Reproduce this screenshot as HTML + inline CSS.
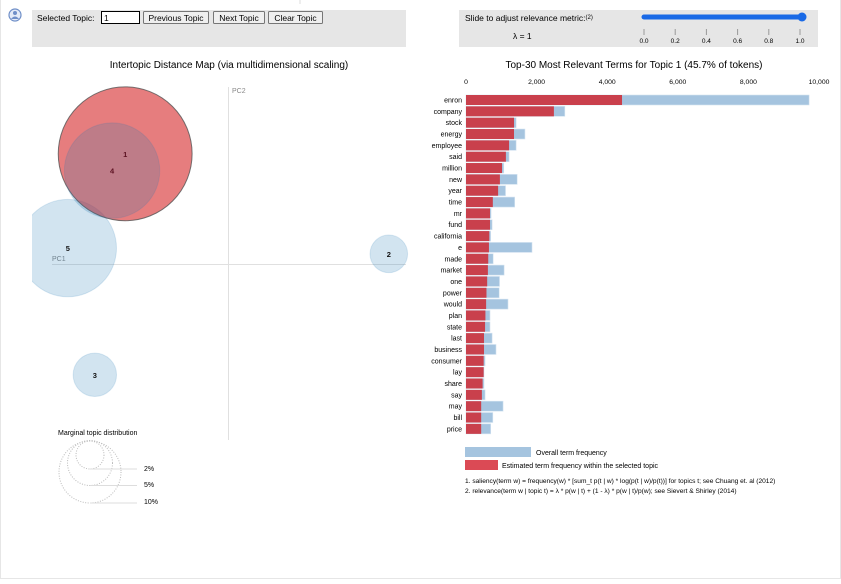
<!DOCTYPE html>
<html><head><meta charset="utf-8">
<style>
body{margin:0;background:#fff;font-family:"Liberation Sans",sans-serif;}
svg text{font-family:"Liberation Sans",sans-serif;}
</style></head>
<body>
<svg id="root" width="841" height="579" viewBox="0 0 841 579" xmlns="http://www.w3.org/2000/svg">
<line x1="300" y1="0" x2="300" y2="4" stroke="#ddd"/>
<line x1="0.5" y1="0" x2="0.5" y2="579" stroke="#e6e6e6"/>
<line x1="840.5" y1="0" x2="840.5" y2="579" stroke="#e6e6e6"/>
<line x1="0" y1="578.5" x2="841" y2="578.5" stroke="#e6e6e6"/>
<g>
<circle cx="15" cy="15" r="6" fill="#e4ebf7" stroke="#6f8fc8" stroke-width="1.2"/>
<circle cx="15" cy="13" r="2" fill="#6f8fc8"/>
<path d="M11 19 Q15 14 19 19" fill="#6f8fc8"/>
</g>
<rect x="32" y="10" width="374" height="37" fill="#e6e6e6"/>
<text x="37" y="21" font-size="8.5" fill="#000">Selected Topic:</text>
<rect x="101.5" y="11.5" width="38" height="12" fill="#fff" stroke="#000"/>
<text x="104" y="21" font-size="8.5">1</text>
<g><rect x="143.5" y="11.5" width="65" height="12" fill="#efefef" stroke="#767676" rx="1"/><text x="176" y="21" font-size="8.5" text-anchor="middle">Previous Topic</text></g>
<g><rect x="213.5" y="11.5" width="51" height="12" fill="#efefef" stroke="#767676" rx="1"/><text x="239" y="21" font-size="8.5" text-anchor="middle">Next Topic</text></g>
<g><rect x="268.5" y="11.5" width="54" height="12" fill="#efefef" stroke="#767676" rx="1"/><text x="295.5" y="21" font-size="8.5" text-anchor="middle">Clear Topic</text></g>

<rect x="459" y="10" width="359" height="37" fill="#e6e6e6"/>
<text x="465" y="21" font-size="8.5">Slide to adjust relevance metric:<tspan font-size="6" dy="-2">(2)</tspan></text>
<text x="513" y="39" font-size="8.5">λ = 1</text>
<g>
<line x1="644" y1="17" x2="802" y2="17" stroke="#1a6ae6" stroke-width="5" stroke-linecap="round"/>
<circle cx="802" cy="17" r="4.5" fill="#1a6ae6"/>
</g>
<g id="sliderTicks"></g>

<text x="229" y="68" font-size="10" text-anchor="middle">Intertopic Distance Map (via multidimensional scaling)</text>
<text x="634" y="68" font-size="10" text-anchor="middle">Top-30 Most Relevant Terms for Topic 1 (45.7% of tokens)</text>

<defs><clipPath id="mdsclip"><rect x="32" y="78" width="380" height="370"/></clipPath></defs>
<line x1="228.5" y1="87" x2="228.5" y2="440" stroke="#e0e0e0"/>
<line x1="52" y1="264.5" x2="406" y2="264.5" stroke="#e0e0e0"/>
<text x="232" y="93" font-size="7" fill="#888">PC2</text>
<text x="52" y="261" font-size="7" fill="#888">PC1</text>
<g id="circles" clip-path="url(#mdsclip)"></g>

<g>
<text x="58" y="435" font-size="7">Marginal topic distribution</text>
<circle cx="90" cy="455" r="14" fill="none" stroke="#bbb" stroke-dasharray="1,1.5"/>
<circle cx="90" cy="463" r="22.5" fill="none" stroke="#bbb" stroke-dasharray="1,1.5"/>
<circle cx="90" cy="472" r="31" fill="none" stroke="#bbb" stroke-dasharray="1,1.5"/>
<line x1="90" y1="469" x2="137" y2="469" stroke="#ddd"/>
<line x1="90" y1="485.5" x2="137" y2="485.5" stroke="#ddd"/>
<line x1="90" y1="503" x2="137" y2="503" stroke="#ddd"/>
<text x="144" y="471" font-size="7">2%</text>
<text x="144" y="487" font-size="7">5%</text>
<text x="144" y="504" font-size="7">10%</text>
</g>

<g id="bars"></g>

<rect x="465" y="447" width="66" height="10" fill="#a5c4df"/>
<text x="536" y="455" font-size="7">Overall term frequency</text>
<rect x="465" y="460" width="33" height="10" fill="#db4a55"/>
<text x="502" y="468" font-size="7">Estimated term frequency within the selected topic</text>
<text x="465" y="483" font-size="6.6">1. saliency(term w) = frequency(w) * [sum_t p(t | w) * log(p(t | w)/p(t))] for topics t; see Chuang et. al (2012)</text>
<text x="465" y="493" font-size="6.6">2. relevance(term w | topic t) = λ * p(w | t) + (1 - λ) * p(w | t)/p(w); see Sievert &amp; Shirley (2014)</text>
</svg>
<script>
const NS='http://www.w3.org/2000/svg';
const terms=['enron','company','stock','energy','employee','said','million','new','year','time','mr','fund','california','e','made','market','one','power','would','plan','state','last','business','consumer','lay','share','say','may','bill','price'];
const overallFreq=[9720,2800,1420,1670,1420,1220,1070,1450,1120,1380,710,740,700,1870,770,1080,950,940,1190,680,680,740,850,540,510,510,540,1050,760,700];
const topicFreq=[4420,2490,1360,1360,1220,1130,1020,960,910,760,680,680,660,650,630,620,600,580,570,550,540,510,510,500,500,470,450,430,430,430];
const xTicks=[0,2000,4000,6000,8000,10000];
const sliderTicks=[0.0,0.2,0.4,0.6,0.8,1.0];
const topicIds=['1','2','3','4','5'];
const topicPC1=[-0.252,0.391,-0.326,-0.284,-0.392];
const topicPC2=[0.270,0.026,-0.269,0.229,0.040];
const topicSize=[45.7,3.6,4.8,23.2,24.2];

function el(tag,attrs,parent){const e=document.createElementNS(NS,tag);for(const k in attrs)e.setAttribute(k,attrs[k]);parent.appendChild(e);return e;}
const sx=v=>644+v*156;
const st=document.getElementById('sliderTicks');
sliderTicks.forEach(v=>{
 const l=el('line',{x1:sx(v),y1:29,x2:sx(v),y2:35,stroke:'#999'},st);
 
 
 const t=el('text',{x:sx(v),y:43,'font-size':6.5,'text-anchor':'middle'},st);
 t.textContent=v.toFixed(1);
 
 
});
const x0=466,kx=0.0353;
const xs=v=>x0+v*kx;
const ys=i=>100+i*11.34;
const bg=document.getElementById('bars');
xTicks.forEach(v=>{
 const t=el('text',{x:xs(v),y:84,'font-size':6.8,'text-anchor':'middle'},bg);
 t.textContent=v.toLocaleString('en-US');
 
 
});
terms.forEach((term,i)=>{
 const y=ys(i);
 const b=el('rect',{x:xs(0),y:y-5,width:xs(overallFreq[i])-xs(0),height:10,fill:'#a5c4df',stroke:'#d5e4f1','stroke-width':0.6},bg);
 
 
 const r=el('rect',{x:xs(0),y:y-5,width:xs(topicFreq[i])-xs(0),height:10,fill:'#c9404c'},bg);
 
 
 const t=el('text',{x:462,y:y+2.5,'font-size':7,'text-anchor':'end'},bg);
 t.textContent=term;
 
 
});
const cx=v=>228.5+v*410;
const cy=v=>264.5-v*410;
const rs=s=>Math.sqrt(s)*9.9;
const cg=document.getElementById('circles');
const order=[4,1,2,0,3];
order.forEach(i=>{
 const sel=i===0;
 const c=el('circle',{cx:cx(topicPC1[i]),cy:cy(topicPC2[i]),r:rs(topicSize[i]),fill:sel?'#d62728':'#1f77b4','fill-opacity':sel?0.6:0.2,stroke:sel?'#555':'#1f77b4','stroke-opacity':sel?0.8:0.15},cg);
 
 
});
order.forEach(i=>{
 const t=el('text',{x:cx(topicPC1[i]),y:cy(topicPC2[i])+3,'font-size':7.5,'font-weight':'bold','text-anchor':'middle',fill:(i===0||i===3)?'#5a1020':'#111'},cg);
 t.textContent=topicIds[i];
 
 
});
</script>
</body></html>
